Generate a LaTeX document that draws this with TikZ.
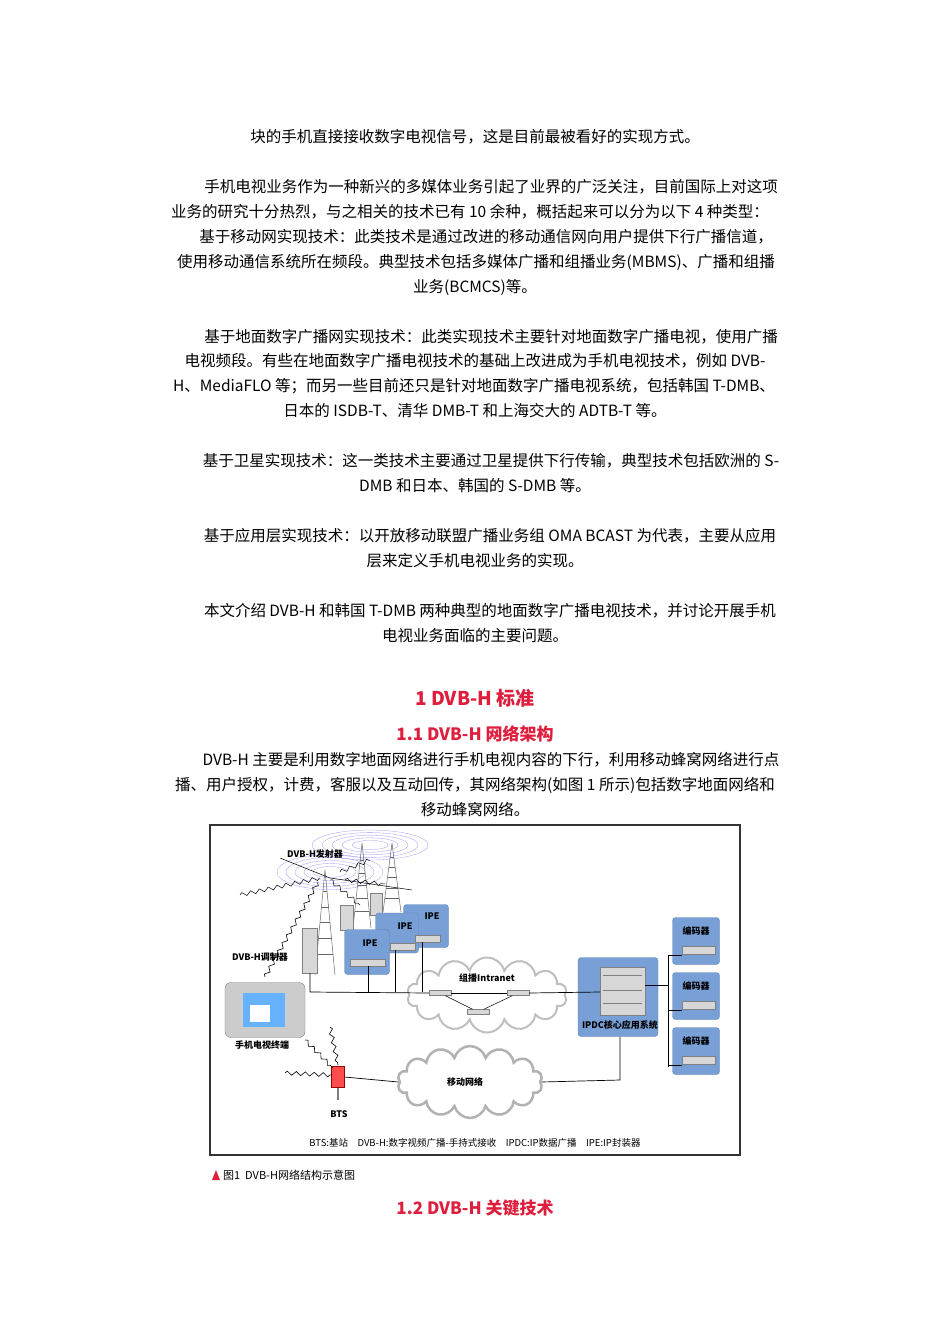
\documentclass[tikz,border=0pt]{standalone}
\usepackage{fontspec}
\setmainfont{Noto Sans CJK SC}
\usetikzlibrary{shapes.symbols,decorations.pathmorphing}
\definecolor{hred}{RGB}{222,30,60}
\definecolor{ipeblue}{RGB}{120,160,215}
\definecolor{devgray}{RGB}{215,215,215}
\tikzset{
 bodyline/.style={font=\fontsize{15.5}{18}\selectfont, inner sep=0pt, anchor=center},
 head/.style={font=\fontsize{17}{20}\selectfont\bfseries, text=hred, inner sep=0pt},
 bluebox/.style={fill=ipeblue, rounded corners=3pt, draw=ipeblue!80!black, line width=0.3pt},
 dev/.style={fill=devgray, draw=gray, line width=0.4pt},
 flab/.style={font=\fontsize{9}{10}\selectfont\bfseries, inner sep=0.5pt},
 link/.style={line width=0.7pt, black},
 bolt/.style={line width=0.6pt, decorate, decoration={zigzag, segment length=9pt, amplitude=2pt}},
 wave/.style={draw=blue!40, line width=0.3pt},
 tower/.style={draw=gray!80!black, line width=0.5pt}
}
\begin{document}
\begin{tikzpicture}[x=1pt,y=-1pt]
\useasboundingbox (0,0) rectangle (950,1344);
\fill[white] (0,0) rectangle (950,1344);
% body text
\node[bodyline] (l1) at (475,137) {块的手机直接接收数字电视信号，这是目前最被看好的实现方式。};
\node[bodyline] (l2) at (491,187) {手机电视业务作为一种新兴的多媒体业务引起了业界的广泛关注，目前国际上对这项};
\node[bodyline] (l3) at (470,212) {业务的研究十分热烈，与之相关的技术已有 10 余种，概括起来可以分为以下 4 种类型：};
\node[bodyline] (l4) at (486,237) {基于移动网实现技术：此类技术是通过改进的移动通信网向用户提供下行广播信道，};
\node[bodyline] (l5) at (476,262) {使用移动通信系统所在频段。典型技术包括多媒体广播和组播业务(MBMS)、广播和组播};
\node[bodyline] (l6) at (475,287) {业务(BCMCS)等。};
\node[bodyline] (l7) at (491,337) {基于地面数字广播网实现技术：此类实现技术主要针对地面数字广播电视，使用广播};
\node[bodyline] (l8) at (475,361) {电视频段。有些在地面数字广播电视技术的基础上改进成为手机电视技术，例如 DVB-};
\node[bodyline] (l9) at (474,386) {H、MediaFLO 等；而另一些目前还只是针对地面数字广播电视系统，包括韩国 T-DMB、};
\node[bodyline] (l10) at (475,411) {日本的 ISDB-T、清华 DMB-T 和上海交大的 ADTB-T 等。};
\node[bodyline] (l11) at (491,461) {基于卫星实现技术：这一类技术主要通过卫星提供下行传输，典型技术包括欧洲的 S-};
\node[bodyline] (l12) at (475,486) {DMB 和日本、韩国的 S-DMB 等。};
\node[bodyline] (l13) at (490,536) {基于应用层实现技术：以开放移动联盟广播业务组 OMA BCAST 为代表，主要从应用};
\node[bodyline] (l14) at (475,561) {层来定义手机电视业务的实现。};
\node[bodyline] (l15) at (490,611) {本文介绍 DVB-H 和韩国 T-DMB 两种典型的地面数字广播电视技术，并讨论开展手机};
\node[bodyline] (l16) at (475,636) {电视业务面临的主要问题。};
\node[head, font=\fontsize{19}{22}\selectfont\bfseries] (h1) at (475,698) {1 DVB-H 标准};
\node[head] (h11) at (475,734) {1.1 DVB-H 网络架构};
\node[bodyline] (l17) at (491,760) {DVB-H 主要是利用数字地面网络进行手机电视内容的下行，利用移动蜂窝网络进行点};
\node[bodyline] (l18) at (475,785) {播、用户授权，计费，客服以及互动回传，其网络架构(如图 1 所示)包括数字地面网络和};
\node[bodyline] (l19) at (475,810) {移动蜂窝网络。};
% figure frame
\draw[line width=1.2pt, draw=black!80] (210,825) rectangle (740,1155);
% radio waves
\foreach \r in {1,...,5}{
 \draw[wave] (330,872) ellipse ({8+9*\r} and {2.5+3*\r});
 \draw[wave] (370,845) ellipse ({8+10*\r} and {2+2.6*\r});
}
% towers
\foreach \x/\t/\b/\w in {325/870/975/10, 362/843/928/9, 392/843/912/9}{
 \draw[tower] (\x,\t) -- (\x-\w,\b) (\x,\t) -- (\x+\w,\b);
 \foreach \k in {0.2,0.35,...,0.95}{
  \draw[tower, line width=0.3pt] ({\x-\w*\k},{\t+(\b-\t)*\k}) -- ({\x+\w*\k},{\t+(\b-\t)*\k});
 }
}
% cabinets
\draw[dev] (302,928) rectangle (317,973);
\draw[dev] (340,905) rectangle (353,930);
\draw[dev] (370,893) rectangle (382,915);
% DVB-H transmit lines
\draw[link, line width=0.5pt] (280,858) -- (330,878) -- (412,890);
\draw[bolt, line width=0.5pt] (240,895) -- (320,878);
\draw[bolt, line width=0.5pt] (330,880) -- (360,905);
\draw[bolt, line width=0.5pt] (340,872) -- (370,860);
\draw[bolt, line width=0.5pt] (345,880) -- (385,884);
\node[flab] (tx) at (315,854) {DVB-H发射器};
\node[flab] (mod) at (260,957) {DVB-H调制器};
% IPE boxes
\node[bluebox, minimum width=45pt, minimum height=43pt] (ipe3) at (426,926) {};
\node[bluebox, minimum width=43pt, minimum height=40pt] (ipe2) at (397,933) {};
\node[bluebox, minimum width=45pt, minimum height=45pt] (ipe1) at (367,952) {};
\node[flab] at (432,916) {IPE};
\node[flab] at (405,926) {IPE};
\node[flab] at (370,943) {IPE};
\draw[dev] (415,935) rectangle (440,942);
\draw[dev] (390,943) rectangle (415,950);
\draw[dev] (350,959) rectangle (385,966);
% clouds
\node[cloud, cloud puffs=14, aspect=2.2, draw=gray!50, fill=white, line width=2pt, minimum width=160pt, minimum height=75pt] (intra) at (487,995) {};
\node[cloud, cloud puffs=14, aspect=2.1, draw=gray!60, fill=white, line width=2.5pt, minimum width=145pt, minimum height=72pt] (mob) at (470,1082) {};
\node[flab] at (487,978) {组播Intranet};
\node[flab] at (465,1082) {移动网络};
% routers
\node[dev, minimum width=22pt, minimum height=5pt, inner sep=0] (r1) at (440,993) {};
\node[dev, minimum width=22pt, minimum height=5pt, inner sep=0] (r2) at (518,993) {};
\node[dev, minimum width=22pt, minimum height=5pt, inner sep=0] (r3) at (478,1012) {};
\draw[link, line width=0.5pt] (r1) -- (r3) -- (r2);
% IPDC
\node[bluebox, minimum width=80pt, minimum height=79pt] (ipdc) at (618,997) {};
\draw[dev] (600,967) rectangle (645,1015);
\draw[gray] (603,975) -- (642,975) (603,990) -- (642,990) (603,1003) -- (642,1003);
\node[flab] at (620,1025) {IPDC核心应用系统};
% encoders
\foreach \y/\n in {941/e1, 996/e2, 1051/e3}{
 \node[bluebox, minimum width=47pt, minimum height=47pt] (\n) at (696,\y) {};
 \node[flab] at (696,{\y-10}) {编码器};
 \draw[dev] (682,{\y+5}) rectangle (715,{\y+13});
}
% links
\draw[link] (310,973) -- (310,992) -- (r1.west);
\draw[link] (368,966) -- (368,992);
\draw[link] (395,950) -- (395,992);
\draw[link] (422,942) -- (422,992);
\draw[link] (r1.east) -- (r2.west);
\draw[link] (r2.east) -- (600,992);
\draw[link] (645,985) -- (668,985);
\draw[link] (668,955) -- (668,1067);
\draw[link] (668,955) -- (682,955) (668,1010) -- (682,1010) (668,1065) -- (682,1065);
% phone
\node[dev, rounded corners=6pt, minimum width=80pt, minimum height=55pt, fill=gray!40] (phone) at (265,1010) {};
\fill[blue!50!cyan!60] (243,993) rectangle (285,1027);
\fill[white] (250,1005) rectangle (270,1022);
\node[flab] at (262,1045) {手机电视终端};
% BTS
\node[draw=red!60!black, fill=red!70!white, minimum width=13pt, minimum height=21pt, inner sep=0] (bts) at (338,1077) {};
\draw[gray, line width=2pt] (338,1088) -- (338,1100);
\node[flab] at (339,1114) {BTS};
\draw[link] (bts.east) -- (mob.west);
\draw[link] (mob.east) -- (620,1080) -- (620,1037);
% bolts
\draw[bolt] (265,977) -- (318,882);
\draw[bolt] (305,1040) -- (333,1068);
\draw[bolt] (330,1027) -- (338,1065);
\draw[bolt] (285,1073) -- (332,1075);
% legend and caption
\node[flab, font=\fontsize{9.5}{11}\selectfont] (leg) at (475,1143) {BTS:基站\quad DVB-H:数字视频广播-手持式接收\quad IPDC:IP数据广播\quad IPE:IP封装器};
\fill[hred] (212,1180) -- (220,1180) -- (216,1170) -- cycle;
\node[anchor=west, inner sep=0, font=\fontsize{11}{13}\selectfont] (cap) at (223,1175) {图1\ \ DVB-H网络结构示意图};
\node[head] (h12) at (475,1208) {1.2 DVB-H 关键技术};
\end{tikzpicture}
\end{document}
